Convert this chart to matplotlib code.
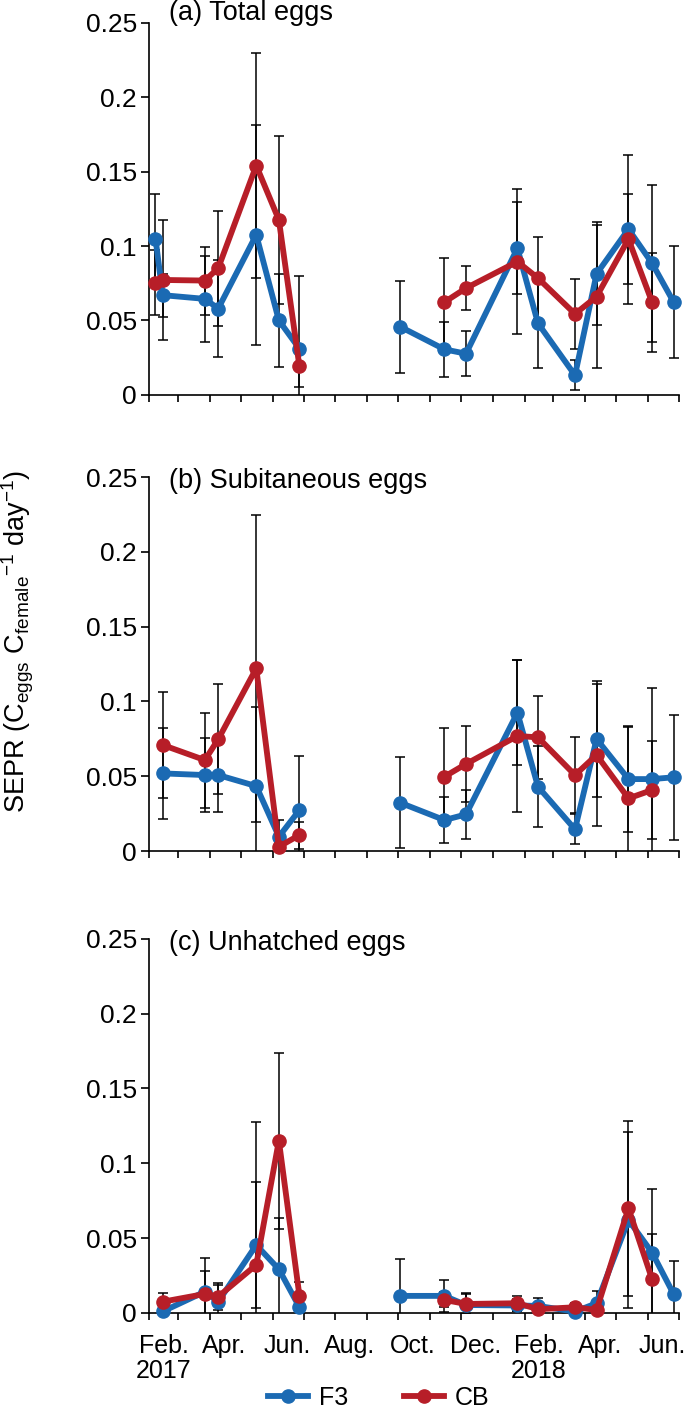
import matplotlib
matplotlib.use('Agg')
import matplotlib.pyplot as plt
import matplotlib.dates as mdates
from matplotlib.ticker import FixedLocator, FixedFormatter, FuncFormatter
import numpy as np
import pandas as pd

plt.rcParams['font.family'] = ['Liberation Sans', 'DejaVu Sans']
plt.rcParams['mathtext.fontset'] = 'custom'
plt.rcParams['mathtext.rm'] = 'Liberation Sans'
plt.rcParams['mathtext.it'] = 'Liberation Sans:italic'

# sampling dates
f3_dates = ['2017-02-07', '2017-02-14', '2017-03-27', '2017-04-09', '2017-05-16',
            '2017-06-07', '2017-06-27', '2017-10-03', '2017-11-15', '2017-12-06',
            '2018-01-25', '2018-02-14', '2018-03-22', '2018-04-12', '2018-05-13',
            '2018-06-05', '2018-06-26']
cb_dates = ['2017-02-07', '2017-02-14', '2017-03-27', '2017-04-09', '2017-05-16',
            '2017-06-07', '2017-06-27', '2017-11-15', '2017-12-06', '2018-01-25',
            '2018-02-14', '2018-03-22', '2018-04-12', '2018-05-13', '2018-06-05']
# (b) and (c) have no 7 Feb 2017 sample
f3_dates_bc = f3_dates[1:]
cb_dates_bc = cb_dates[1:]

# (a) Total eggs
f3_total = [0.105, 0.067, 0.0645, 0.058, 0.1075, 0.050, 0.031,
            0.0458, 0.0306, 0.0277, 0.0985, 0.0481, 0.0132, 0.0813, 0.1113, 0.0884, 0.0623]
f3_total_sd = [0.030, 0.0145, 0.029, 0.0323, 0.0738, 0.031, 0.049,
               0.031, 0.0186, 0.015, 0.031, 0.030, 0.010, 0.0345, 0.050, 0.0526, 0.0375]
cb_total = [0.0754, 0.0772, 0.0768, 0.0851, 0.154, 0.1175, 0.0191,
            0.0623, 0.0717, 0.0895, 0.0784, 0.0544, 0.066, 0.1046, 0.0623]
cb_total_sd = [0.0217, 0.040, 0.0228, 0.0387, 0.0755, 0.0565, 0.0135,
               0.0295, 0.015, 0.0486, 0.0275, 0.0235, 0.048, 0.030, 0.0333]

# (b) Subitaneous eggs
f3_sub = [0.0519, 0.0508, 0.0508, 0.0434, 0.0096, 0.0274,
          0.0323, 0.0207, 0.0245, 0.0925, 0.043, 0.0145, 0.0749, 0.0481, 0.0481, 0.0493]
f3_sub_sd = [0.0305, 0.025, 0.025, 0.0526, 0.011, 0.036,
             0.0303, 0.0152, 0.0163, 0.0352, 0.0272, 0.010, 0.0387, 0.0355, 0.0606, 0.0416]
cb_sub = [0.0709, 0.0608, 0.0747, 0.1221, 0.0029, 0.0107,
          0.0497, 0.0582, 0.0769, 0.076, 0.0508, 0.0642, 0.0352, 0.0408]
cb_sub_sd = [0.0356, 0.0317, 0.0367, 0.1025, 0.003, 0.009,
             0.0323, 0.0254, 0.051, 0.0276, 0.0252, 0.0474, 0.048, 0.033]

# (c) Unhatched eggs
f3_unh = [0.001, 0.0142, 0.0075, 0.0454, 0.0292, 0.0038,
          0.0114, 0.0114, 0.0053, 0.005, 0.0047, 0.0009, 0.0065, 0.0621, 0.0403, 0.0125]
f3_unh_sd = [0.002, 0.0223, 0.011, 0.042, 0.0345, 0.003,
             0.0245, 0.0106, 0.008, 0.004, 0.005, 0.002, 0.008, 0.059, 0.0423, 0.0222]
cb_unh = [0.0075, 0.0127, 0.0109, 0.0321, 0.1151, 0.0114,
          0.0087, 0.006, 0.0065, 0.0025, 0.0038, 0.002, 0.0699, 0.0225]
cb_unh_sd = [0.006, 0.015, 0.0089, 0.0953, 0.0588, 0.0095,
             0.005, 0.0065, 0.005, 0.002, 0.003, 0.002, 0.0586, 0.030]

month_labels = ['Feb.\n2017', 'Apr.', 'Jun.', 'Aug.', 'Oct.', 'Dec.', 'Feb.\n2018', 'Apr.', 'Jun.']
yticks = [0, 0.05, 0.1, 0.15, 0.2, 0.25]

BLUE = '#1B6AB3'
RED = '#B71E28'


def draw(ax, dates, vals, sd, color, z):
    d = pd.to_datetime(dates)
    x = mdates.date2num(d.to_pydatetime())
    ax.errorbar(x, vals, yerr=sd, fmt='none', ecolor='black', elinewidth=1.1,
                capsize=3.3, capthick=1.1, zorder=2)
    # no line across the summer gap
    brk = np.where(np.diff(x) > 60)[0] + 1
    for idx in np.split(np.arange(len(x)), brk):
        ax.plot(x[idx], np.array(vals)[idx], '-o', color=color, lw=4.2, ms=9.5,
                zorder=z, clip_on=False)


fig = plt.figure(figsize=(6.85, 14.13), dpi=100)
L, W = 0.218, 0.773
axes = [fig.add_axes([L, 0.7205, W, 0.2635]),
        fig.add_axes([L, 0.3977, W, 0.2647]),
        fig.add_axes([L, 0.0708, W, 0.2649])]

panels = [(f3_dates, f3_total, f3_total_sd, cb_dates, cb_total, cb_total_sd, '(a) Total eggs', 1.026),
          (f3_dates_bc, f3_sub, f3_sub_sd, cb_dates_bc, cb_sub, cb_sub_sd, '(b) Subitaneous eggs', 0.989),
          (f3_dates_bc, f3_unh, f3_unh_sd, cb_dates_bc, cb_unh, cb_unh_sd, '(c) Unhatched eggs', 0.9885)]

x0 = mdates.date2num(pd.Timestamp('2017-02-01').to_pydatetime())
x1 = mdates.date2num(pd.Timestamp('2018-07-01').to_pydatetime())
month_starts = mdates.date2num(pd.date_range('2017-02-01', '2018-07-01', freq='MS').to_pydatetime())
label_pos = mdates.date2num((pd.date_range('2017-02-01', '2018-06-01', freq='2MS')
                             + pd.Timedelta(days=14)).to_pydatetime())

for i, (ax, p) in enumerate(zip(axes, panels)):
    fd, fv, fs, cd, cv, cs, title, ty = p
    draw(ax, fd, fv, fs, BLUE, 3)
    draw(ax, cd, cv, cs, RED, 4)
    ax.set_xlim(x0, x1)
    ax.set_ylim(0, 0.25)
    for s in ['top', 'right']:
        ax.spines[s].set_visible(False)
    for s in ['left', 'bottom']:
        ax.spines[s].set_linewidth(1.2)
    ax.set_yticks(yticks)
    ax.yaxis.set_major_formatter(FuncFormatter(lambda v, pos: '%g' % v))
    ax.tick_params(axis='y', direction='out', length=6, width=1.2, labelsize=19, pad=3)
    ax.xaxis.set_major_locator(FixedLocator(month_starts))
    ax.xaxis.set_major_formatter(FixedFormatter([''] * len(month_starts)))
    ax.tick_params(axis='x', which='major', direction='out', length=5, width=1.2)
    if i == 2:
        ax.xaxis.set_minor_locator(FixedLocator(label_pos))
        ax.xaxis.set_minor_formatter(FixedFormatter(month_labels))
        ax.tick_params(axis='x', which='minor', length=0, labelsize=18, pad=15)
        for lab in ax.xaxis.get_minorticklabels():
            lab.set_linespacing(1.05)
    ax.text(0.037, ty, title, transform=ax.transAxes, fontsize=19.5, ha='left', va='center')

fig.text(0.026, 0.5464,
         r'SEPR (C$_{\mathrm{eggs}}$ C$_{\mathrm{female}}$$^{\mathrm{-1}}$ day$^{\mathrm{-1}}$)',
         rotation=90, ha='center', va='center', fontsize=19.5)

handles = [plt.Line2D([], [], color=BLUE, lw=4.2, marker='o', ms=9.5),
           plt.Line2D([], [], color=RED, lw=4.2, marker='o', ms=9.5)]
fig.legend(handles, ['F3', 'CB'], loc='center', bbox_to_anchor=(0.553, 0.0106), ncol=2,
           frameon=False, fontsize=18, handlelength=1.6, handletextpad=0.45,
           columnspacing=2.2, borderpad=0)

fig.savefig('out.png', dpi=100)
